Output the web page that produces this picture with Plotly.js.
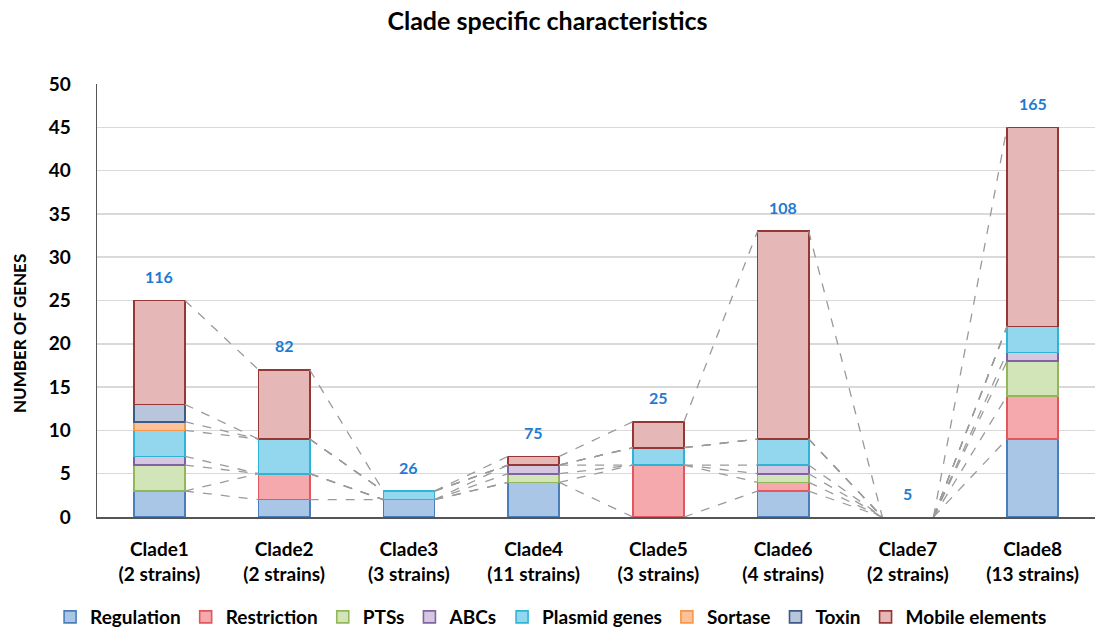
<!DOCTYPE html>
<html>
<head>
<meta charset="utf-8">
<script src="https://cdn.plot.ly/plotly-3.0.1.min.js"></script>
<style>html,body{margin:0;padding:0;background:#fff;}#chart{width:1095px;height:637px;}</style>
</head>
<body>
<div id="chart"></div>
<script>
const clades = ["Clade1<br>(2 strains)", "Clade2<br>(2 strains)", "Clade3<br>(3 strains)", "Clade4<br>(11 strains)",
                "Clade5<br>(3 strains)", "Clade6<br>(4 strains)", "Clade7<br>(2 strains)", "Clade8<br>(13 strains)"];
const seriesNames = ["Regulation", "Restriction", "PTSs", "ABCs", "Plasmid genes", "Sortase", "Toxin", "Mobile elements"];
const regulation  = [3, 2, 2, 4, 0, 3, 0, 9];
const restriction = [0, 3, 0, 0, 6, 1, 0, 5];
const ptss        = [3, 0, 0, 1, 0, 1, 0, 4];
const abcs        = [1, 0, 0, 1, 0, 1, 0, 1];
const plasmid     = [3, 4, 1, 0, 2, 3, 0, 3];
const sortase     = [1, 0, 0, 0, 0, 0, 0, 0];
const toxin       = [2, 0, 0, 0, 0, 0, 0, 0];
const mobile      = [12, 8, 0, 1, 3, 24, 0, 23];
const totalLabels = [116, 82, 26, 75, 25, 108, 5, 165];

const seriesValues = [regulation, restriction, ptss, abcs, plasmid, sortase, toxin, mobile];
const fills = ["#a9c6e7", "#f5a9ac", "#d2e5b8", "#d5c7e2", "#93d7ee", "#fbc29a", "#b8c5da", "#e5b7b7"];
const borders = ["#4a7ebb", "#e0585e", "#92b65a", "#8064a2", "#30b4d6", "#f79646", "#3d5a88", "#953735"];

const xs = clades.map((_, i) => i);
const barWidth = 0.41;

const traces = [];
// series (connector) lines between adjacent stacked columns
const lx = [], ly = [];
const cum = xs.map(() => 0);
seriesValues.forEach(vals => {
  const tops = xs.map(i => cum[i] + vals[i]);
  for (let j = 0; j < xs.length - 1; j++) {
    lx.push(xs[j] + barWidth / 2, xs[j + 1] - barWidth / 2, null);
    ly.push(tops[j], tops[j + 1], null);
  }
  xs.forEach(i => { cum[i] = tops[i]; });
});
traces.push({
  type: "scatter", mode: "lines", x: lx, y: ly, showlegend: false, hoverinfo: "skip",
  line: {color: "#9a9a9a", width: 1.3, dash: "dash"}, connectgaps: false
});

seriesValues.forEach((vals, k) => {
  traces.push({
    type: "bar", name: "<b>" + seriesNames[k] + "</b>", x: xs,
    y: vals.map(v => (v === 0 ? null : v)), width: barWidth,
    marker: {color: fills[k], line: {color: borders[k], width: 1.6}}
  });
});

const totals = cum.slice();
const annotations = xs.map(i => ({
  x: xs[i], y: totals[i], xref: "x", yref: "y", text: "<b>" + totalLabels[i] + "</b>",
  showarrow: false, yanchor: "middle", yshift: 24,
  font: {family: "Lato, 'Open Sans', sans-serif", size: 16, color: "#1f7ad1"}
}));
annotations.push({
  text: "<b>NUMBER OF GENES</b>", xref: "paper", yref: "paper", x: -0.077, y: 0.423,
  xanchor: "center", yanchor: "middle", textangle: -90, showarrow: false,
  font: {family: "Lato, 'Open Sans', sans-serif", size: 17, color: "#000"}
});

const layout = {
  width: 1095, height: 637,
  margin: {l: 97, r: 0, t: 84, b: 120},
  paper_bgcolor: "#ffffff", plot_bgcolor: "#ffffff",
  barmode: "stack",
  font: {family: "Lato, 'Open Sans', sans-serif", color: "#000"},
  title: {text: "<b>Clade specific characteristics</b>", x: 0.5, xanchor: "center", y: 0.967, yanchor: "middle",
          font: {family: "Lato, 'Open Sans', sans-serif", size: 25, color: "#000"}},
  xaxis: {
    range: [-0.5, 7.5], tickmode: "array", tickvals: xs,
    ticktext: clades.map(c => "<b>" + c + "</b>"),
    tickfont: {size: 19, color: "#000"}, showgrid: false, zeroline: false, automargin: false,
    showline: true, linecolor: "#555", linewidth: 2, ticks: "", ticklabelstandoff: 14, fixedrange: true
  },
  yaxis: {
    range: [0, 50], dtick: 5, tickmode: "linear", automargin: false,
    tickfont: {size: 19, color: "#000"}, tickprefix: "<b>", ticksuffix: "</b>",
    showgrid: true, gridcolor: "#d9d9d9", gridwidth: 1.5, zeroline: false,
    showline: true, linecolor: "#555", linewidth: 1.5, ticks: "", ticklen: 0, ticklabelstandoff: 21
  },
  legend: {
    orientation: "h", x: 0.455, xanchor: "center", y: -0.275, yanchor: "bottom",
    traceorder: "normal", font: {size: 19, color: "#000"}, itemwidth: 30,
    itemclick: false
  },
  annotations: annotations,
  showlegend: true
};

Plotly.newPlot("chart", traces, layout, {displayModeBar: false, staticPlot: true});
</script>
</body>
</html>
